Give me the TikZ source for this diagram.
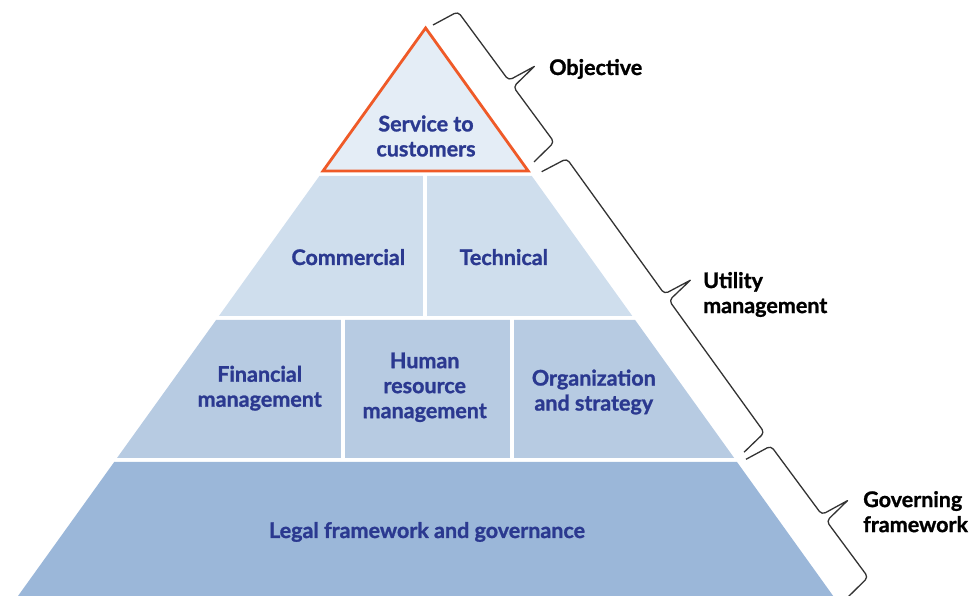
\documentclass[tikz,border=0pt]{standalone}
\usepackage{fontspec}
\setmainfont{Lato}[BoldFeatures={FakeBold=1.2}]
\definecolor{tierA}{HTML}{E4EDF6}
\definecolor{tierB}{HTML}{CFDEED}
\definecolor{tierC}{HTML}{B7CBE2}
\definecolor{tierD}{HTML}{9BB7D9}
\definecolor{tierText}{HTML}{2B3990}
\definecolor{tierOrange}{HTML}{EF5A28}
\definecolor{braceGray}{HTML}{333333}
\tikzset{
  tierlabel/.style={font=\fontsize{21.5}{25}\selectfont\bfseries, text=tierText, align=center, inner sep=0pt},
  sidelabel/.style={font=\fontsize{21.5}{25}\selectfont\bfseries, text=black, align=left, inner sep=0pt, anchor=west},
  gapline/.style={draw=white, line width=4pt},
  bracestyle/.style={draw=braceGray, line width=1.3pt, line join=round}
}
\newcommand{\pyrbrace}[4]{%
  \begin{scope}[shift={(#1)}, rotate=#2]
    \draw[bracestyle] (0,0) [rounded corners=4pt] -- (4,28) -- ({#4-4},28) [sharp corners] -- (#4,57) [rounded corners=4pt] -- ({#4+4},28) -- ({#3-4},28) [sharp corners] -- (#3,0);
  \end{scope}}
\begin{document}
\begin{tikzpicture}[x=1pt,y=1pt]
\useasboundingbox (0,0) rectangle (979,596);
% bottom tier
\fill[tierD] (18,0) -- (114.2,134) -- (737,134) -- (833.2,0) -- cycle;
% third tier
\fill[tierC] (117,138) -- (216.1,276) -- (635.1,276) -- (734.2,138) -- cycle;
\draw[gapline] (343.3,137) -- (343.3,277);
\draw[gapline] (511.5,137) -- (511.5,277);
% second tier
\fill[tierB] (218.9,280) -- (319.4,420) -- (531.8,420) -- (632.3,280) -- cycle;
\draw[gapline] (424.5,279) -- (424.5,421);
% top triangle
\draw[tierOrange, fill=tierA, line width=2.8pt, line join=miter] (323,425) -- (425.6,568) -- (528.2,425) -- cycle;
% labels
\node[tierlabel] (svc) at (426,460) {Service to\\customers};
\node[tierlabel, anchor=base] (com) at (348.3,331) {Commercial};
\node[tierlabel, anchor=base] (tec) at (503.8,331) {Technical};
\node[tierlabel] (fin) at (259.7,207.8) {Financial\\management};
\node[tierlabel] (hum) at (424.7,208.7) {Human\\resource\\management};
\node[tierlabel] (org) at (593.8,204) {Organization\\and strategy};
\node[tierlabel, anchor=base] (leg) at (427,58) {Legal framework and governance};
% braces
\coordinate (objA) at (433,571);
\coordinate (utiA) at (541.7,424.3);
\coordinate (govA) at (746,136.7);
\pyrbrace{objA}{-53.6}{170.2}{93.5}
\pyrbrace{utiA}{-54.2}{345.9}{175}
\pyrbrace{govA}{-53.5}{171.4}{93.6}
\node[sidelabel, anchor=base west] (obj) at (549,521) {Objective};
\node[sidelabel] (uti) at (703,301.5) {Utility\\management};
\node[sidelabel] (gov) at (863,84.3) {Governing\\framework};
\end{tikzpicture}
\end{document}
